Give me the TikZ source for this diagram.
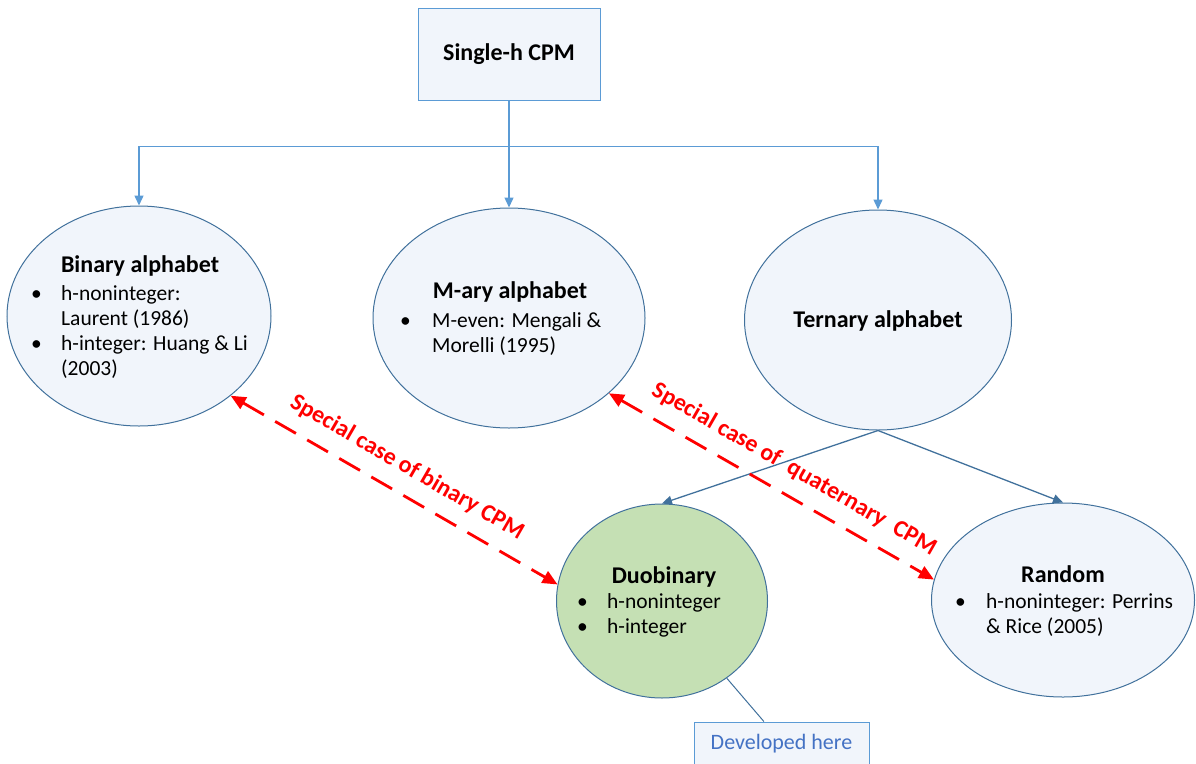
\documentclass[tikz,border=0pt]{standalone}
\usepackage{fontspec}
\setmainfont{Carlito}
\usepackage{tikz}
\usetikzlibrary{calc,arrows.meta,positioning,shapes.geometric}
\usepackage{xcolor}
\definecolor{edgeblue}{RGB}{65,113,156}
\definecolor{lineblue}{RGB}{91,155,213}
\definecolor{paleblue}{RGB}{241,245,251}
\definecolor{duogreen}{RGB}{197,224,180}
\definecolor{noteblue}{RGB}{68,114,196}

\begin{document}
\begin{tikzpicture}[x=1pt, y=-1pt,
    every node/.style={font=\fontsize{21.5}{25}\selectfont},
    family/.style={ellipse, draw=edgeblue, fill=paleblue, line width=1pt, inner sep=0pt},
    head/.style={anchor=base, font=\fontsize{24}{28}\selectfont\bfseries},
    items/.style={anchor=base west, inner sep=0pt},
    tree/.style={draw=lineblue, line width=1.4pt, -{Triangle[length=10pt,width=9pt]}},
    sub/.style={draw=edgeblue, line width=1.3pt, -{Triangle[length=10pt,width=9pt]}},
    special/.style={red, line width=2.8pt, dash pattern=on 24pt off 13pt,
      {Triangle[length=15pt,width=13pt]}-{Triangle[length=15pt,width=13pt]}},
    caselabel/.style={sloped, above=11pt, font=\fontsize{24}{28}\selectfont\bfseries}]
  \useasboundingbox (0,0) rectangle (1196,763);
  \clip (0,0) rectangle (1196,763);

  \node[draw=lineblue, fill=paleblue, line width=1pt, minimum width=182pt, minimum height=92pt,
        font=\fontsize{24}{28}\selectfont\bfseries] (root) at (509,54) {Single-h CPM};

  \node[family, minimum width=264pt, minimum height=220pt] (bin) at (139,316) {};
  \node[family, minimum width=272pt, minimum height=220pt] (mary) at (509,318) {};
  \node[family, minimum width=267pt, minimum height=220pt] (ter) at (878,320) {};
  \node[family, fill=duogreen, minimum width=211pt, minimum height=194pt] (duo) at (662,601) {};
  \node[family, minimum width=263pt, minimum height=194pt] (rnd) at (1063,600) {};

  % texts inside the ellipses
  \node[head] (binhead) at (140,272) {Binary alphabet};
  \node[items] (binitems) at (31,300) {\begin{tabular}[t]{@{}p{30pt}@{}l@{}}
    \textbullet & h-noninteger:\\ & Laurent (1986)\\
    \textbullet & h-integer: Huang \& Li\\ & (2003)\end{tabular}};
  \node[head] (maryhead) at (510,298) {M-ary alphabet};
  \node[items] (maryitems) at (400,327) {\begin{tabular}[t]{@{}p{32pt}@{}l@{}}
    \textbullet & M-even: Mengali \&\\ & Morelli (1995)\end{tabular}};
  \node[head] (terhead) at (878,327) {Ternary alphabet};
  \node[head] (duohead) at (664,583) {Duobinary};
  \node[items] (duoitems) at (577,608) {\begin{tabular}[t]{@{}p{30pt}@{}l@{}}
    \textbullet & h-noninteger\\ \textbullet & h-integer\end{tabular}};
  \node[head] (rndhead) at (1063,582) {Random};
  \node[items] (rnditems) at (955,608) {\begin{tabular}[t]{@{}p{31pt}@{}l@{}}
    \textbullet & h-noninteger: Perrins\\ & \& Rice (2005)\end{tabular}};

  \draw[tree] (root.south) -- ++(0,46) coordinate (split) -| (bin.north);
  \draw[tree] (split) -| (ter.north);
  \draw[tree] (split) -- (mary.north);

  \draw[sub] (ter.south) -- (duo.north);
  \draw[sub] (ter.south) -- (rnd.north);

  \draw[special] (bin.-41) -- node[caselabel] {Special case of binary CPM} (duo.171);
  \draw[special] (mary.-37) -- node[caselabel, pos=0.53] {Special case of\ \ quaternary\ \ CPM} (rnd.171);

  \node[draw=lineblue, fill=paleblue, line width=1pt, text=noteblue, minimum width=175pt,
        minimum height=44pt, font=\fontsize{22}{26}\selectfont] (dev) at (781.5,744) {Developed here};
  \draw[edgeblue, line width=1pt] ($(dev.north west)!0.4!(dev.north east)$) -- (duo.-50);
\end{tikzpicture}
\end{document}
